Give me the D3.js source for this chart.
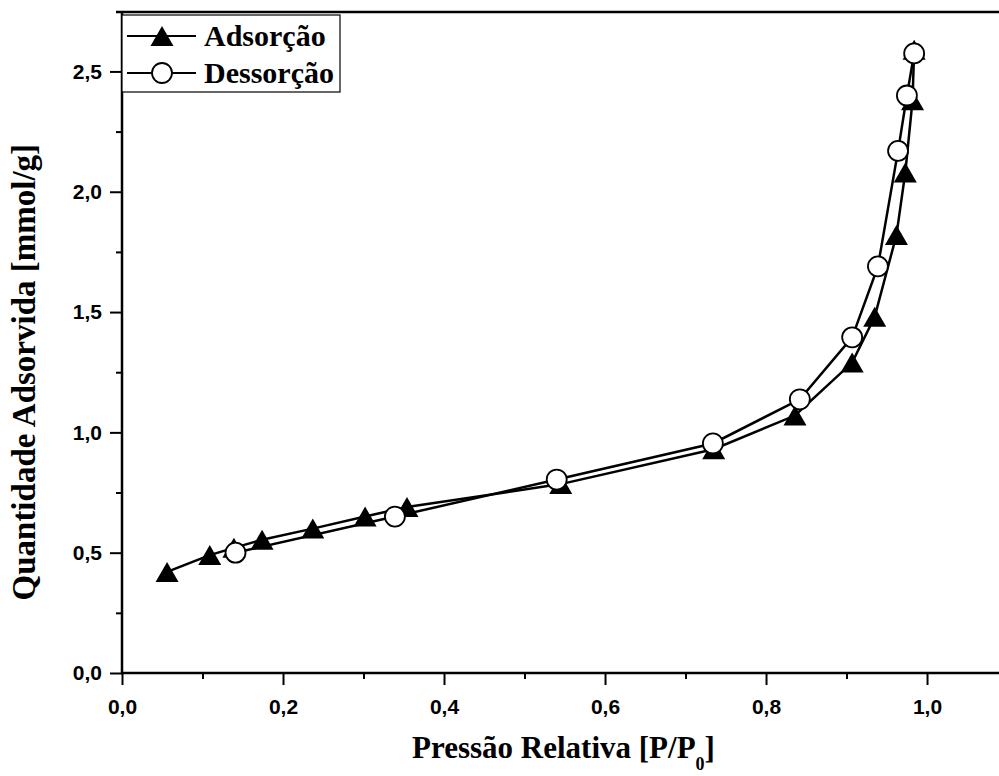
<!DOCTYPE html>
<html>
<head>
<meta charset="utf-8">
<script src="https://cdn.jsdelivr.net/npm/d3@7"></script>
<style>
body { margin: 0; background: #fff; }
svg { display: block; }
.tick text { font-family: "Liberation Sans", Arial, sans-serif; font-weight: bold; }
</style>
</head>
<body>
<div id="graph1"></div>
<script>
// adsorption branch (triangles)
var adsX = [0.056, 0.109, 0.139, 0.174, 0.237, 0.302, 0.354, 0.545, 0.735, 0.836, 0.907, 0.935, 0.962, 0.973, 0.982, 0.984];
var adsY = [0.42, 0.49, 0.52, 0.554, 0.60, 0.65, 0.69, 0.785, 0.93, 1.07, 1.29, 1.48, 1.82, 2.08, 2.38, 2.59];
// desorption branch (circles)
var desX = [0.984, 0.975, 0.964, 0.939, 0.907, 0.842, 0.734, 0.540, 0.339, 0.141];
var desY = [2.575, 2.40, 2.17, 1.69, 1.395, 1.1375, 0.954, 0.804, 0.65, 0.50];

var xTicks = [0, 0.1, 0.2, 0.3, 0.4, 0.5, 0.6, 0.7, 0.8, 0.9, 1.0];
var yTicks = [0, 0.25, 0.5, 0.75, 1.0, 1.25, 1.5, 1.75, 2.0, 2.25, 2.5];
var seriesNames = ["Adsorção", "Dessorção"];

var width = 999, height = 776;
var margin = {top: 12, right: 0, bottom: 103, left: 122};
var plotW = width - margin.left - margin.right,
	plotH = height - margin.top - margin.bottom;

var x = d3.scaleLinear().domain([0, 1.0894]).range([0, plotW]);
var y = d3.scaleLinear().domain([0, 2.747]).range([plotH, 0]);

var comma = v => d3.format(".1f")(v).replace(".", ",");
var isMajorX = v => Math.abs(Math.round(v * 10) % 2) === 0;
var isMajorY = v => Math.abs(Math.round(v * 4) % 2) === 0;

var svg = d3.select("#graph1")
	.append("svg")
	.attr("width", width)
	.attr("height", height)
	.append("g")
	.attr("transform", "translate(" + margin.left + "," + margin.top + ")");

// axes
var xAxis = svg.append("g")
	.attr("transform", "translate(0," + plotH + ")")
	.call(d3.axisBottom(x).tickValues(xTicks).tickSize(12).tickPadding(14)
		.tickFormat(d => isMajorX(d) ? comma(d) : ""));
var yAxis = svg.append("g")
	.call(d3.axisLeft(y).tickValues(yTicks).tickSize(12).tickPadding(8)
		.tickFormat(d => isMajorY(d) ? comma(d) : ""));

[xAxis, yAxis].forEach(ax => {
	ax.select(".domain").remove();
	ax.selectAll(".tick line").attr("stroke", "#000").attr("stroke-width", 2);
	ax.selectAll(".tick text").attr("fill", "#000").style("font-size", "21px");
});
xAxis.selectAll(".tick").filter(d => !isMajorX(d)).select("line").attr("y2", 6);
yAxis.selectAll(".tick").filter(d => !isMajorY(d)).select("line").attr("x2", -6);

// frame lines: left, bottom, top
svg.append("line").attr("x1", 0).attr("x2", 0).attr("y1", 0).attr("y2", plotH + 1)
	.attr("stroke", "#000").attr("stroke-width", 2.5);
svg.append("line").attr("x1", -1).attr("x2", plotW).attr("y1", plotH).attr("y2", plotH)
	.attr("stroke", "#000").attr("stroke-width", 2.5);
svg.append("line").attr("x1", -6).attr("x2", plotW).attr("y1", 0).attr("y2", 0)
	.attr("stroke", "#000").attr("stroke-width", 2.5);

var line = d3.line().x(d => x(d[0])).y(d => y(d[1]));
var tri = "M0,-10L11.5,10L-11.5,10Z";

var ads = adsX.map((v, i) => [v, adsY[i]]);
var des = desX.map((v, i) => [v, desY[i]]);

svg.append("path").datum(ads).attr("d", line)
	.attr("fill", "none").attr("stroke", "#000").attr("stroke-width", 2.5);
svg.selectAll(".ads").data(ads).enter()
	.append("path").attr("class", "ads")
	.attr("d", tri)
	.attr("transform", d => "translate(" + x(d[0]) + "," + y(d[1]) + ")")
	.attr("fill", "#000");

svg.append("path").datum(des).attr("d", line)
	.attr("fill", "none").attr("stroke", "#000").attr("stroke-width", 2.5);
svg.selectAll(".des").data(des).enter()
	.append("circle").attr("class", "des")
	.attr("cx", d => x(d[0])).attr("cy", d => y(d[1]))
	.attr("r", 10)
	.attr("fill", "#fff").attr("stroke", "#000").attr("stroke-width", 1.8);

// legend
var legend = svg.append("g").attr("transform", "translate(0,3)");
legend.append("rect").attr("x", 0).attr("y", 0).attr("width", 218).attr("height", 77)
	.attr("fill", "#fff").attr("stroke", "#000").attr("stroke-width", 1.2);
seriesNames.forEach((name, i) => {
	var ly = 21 + i * 37;
	legend.append("line").attr("x1", 5).attr("x2", 74).attr("y1", ly).attr("y2", ly)
		.attr("stroke", "#000").attr("stroke-width", 2);
	if (i === 0) {
		legend.append("path").attr("d", tri).attr("transform", "translate(40," + ly + ")").attr("fill", "#000");
	} else {
		legend.append("circle").attr("cx", 40).attr("cy", ly).attr("r", 10)
			.attr("fill", "#fff").attr("stroke", "#000").attr("stroke-width", 1.8);
	}
	legend.append("text").attr("x", 82).attr("y", ly + 10)
		.style("font-family", "'Liberation Serif', 'Times New Roman', serif")
		.style("font-weight", "bold").style("font-size", "30px")
		.text(name);
});

// axis titles
var xt = svg.append("text")
	.attr("x", plotW / 2 + 3).attr("y", plotH + 85)
	.attr("text-anchor", "middle")
	.style("font-family", "'Liberation Serif', 'Times New Roman', serif")
	.style("font-weight", "bold").style("font-size", "31px");
xt.append("tspan").text("Pressão Relativa [P/P");
xt.append("tspan").attr("dy", 12).style("font-size", "18px").text("0");
xt.append("tspan").attr("dy", -12).text("]");

svg.append("text")
	.attr("transform", "translate(" + (35 - margin.left) + "," + (y(1.25)) + ") rotate(-90)")
	.attr("text-anchor", "middle")
	.style("font-family", "'Liberation Serif', 'Times New Roman', serif")
	.style("font-weight", "bold").style("font-size", "33px")
	.text("Quantidade Adsorvida [mmol/g]");
</script>
</body>
</html>
